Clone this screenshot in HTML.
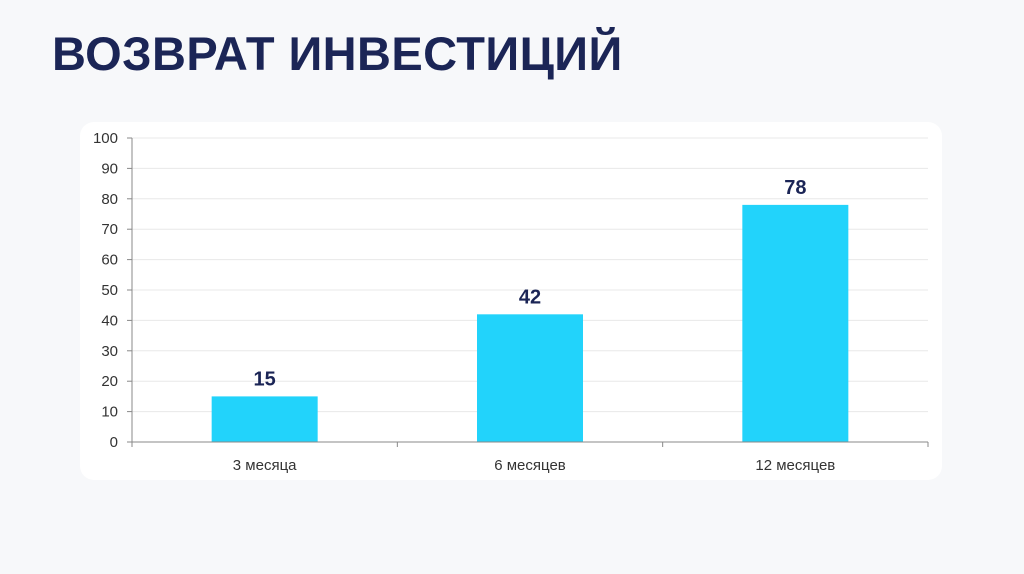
<!DOCTYPE html>
<html><head><meta charset="utf-8"><style>
body{margin:0;width:1024px;height:574px;background:#f7f8fa;overflow:hidden;font-family:"Liberation Sans",sans-serif}
#title{position:absolute;left:52px;top:26px;font-size:47px;font-weight:bold;color:#1b2556;letter-spacing:0.4px;margin:0}
#panel{position:absolute;left:80px;top:122px;width:862px;height:358px;background:#fff;border-radius:14px}
svg{position:absolute;left:0;top:0}
</style></head><body>
<h1 id="title">ВОЗВРАТ ИНВЕСТИЦИЙ</h1>
<div id="panel"></div>
<svg id="chart" width="1024" height="574"></svg>
<script>
const categories=["3 месяца","6 месяцев","12 месяцев"];
const values=[15,42,78];
const yTicks=[0,10,20,30,40,50,60,70,80,90,100];
const svg=document.getElementById('chart');
const NS='http://www.w3.org/2000/svg';
const x0=132,x1=928,y0=442,y1=138,yMax=100;
const bw=(x1-x0)/categories.length;
function y(v){return y0-(v/yMax)*(y0-y1);}
function xc(i){return x0+bw*(i+0.5);}
function mk(t,a,txt){const e=document.createElementNS(NS,t);for(const k in a)e.setAttribute(k,a[k]);if(txt!==undefined)e.textContent=txt;svg.appendChild(e);return e;}
yTicks.forEach(t=>{
  if(t>0){const g=mk('line',{x1:x0,x2:x1,y1:y(t),y2:y(t),stroke:'#e8e8e8','stroke-width':1});
  
  }
  const tk=mk('line',{x1:x0-5,x2:x0,y1:y(t),y2:y(t),stroke:'#888'});
  
  
  const l=mk('text',{x:x0-14,y:y(t)+5,'text-anchor':'end','font-size':15,fill:'#333'},t);
  
  
});
categories.forEach((c,i)=>{
  const b=mk('rect',{x:xc(i)-53,y:y(values[i]),width:106,height:y0-y(values[i]),fill:'#22d3fb'});
  
  
  const v=mk('text',{x:xc(i),y:y(values[i])-11,'text-anchor':'middle','font-size':20,'font-weight':'bold',fill:'#1b2556'},values[i]);
  
  
  const l=mk('text',{x:xc(i),y:y0+28,'text-anchor':'middle','font-size':15,fill:'#333'},c);
  
  
});
for(let i=0;i<=categories.length;i++){
  const t=mk('line',{x1:x0+bw*i,x2:x0+bw*i,y1:y0,y2:y0+5,stroke:'#888'});
  
  
}
const ya=mk('line',{x1:x0,x2:x0,y1:y1,y2:y0,stroke:'#888'});


const xa=mk('line',{x1:x0,x2:x1,y1:y0,y2:y0,stroke:'#888'});


</script>
</body></html>
